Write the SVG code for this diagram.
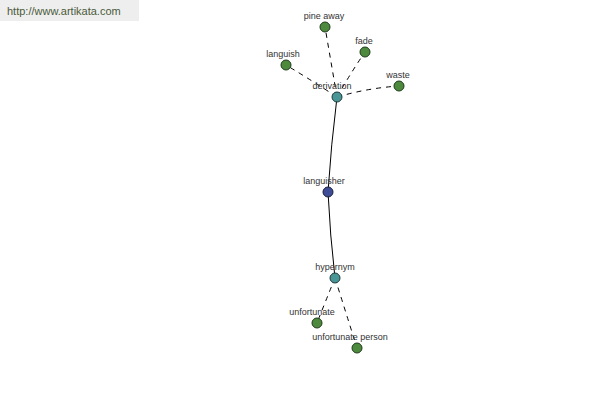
<svg xmlns="http://www.w3.org/2000/svg" width="600" height="400" viewBox="0 0 600 400">
<style>
.lbl{font-family:"Liberation Sans",Arial,sans-serif;font-size:9px;fill:#333;text-anchor:middle}
.leaf{fill:#4e8a3e;stroke:#1f3a1a;stroke-width:1}
.mid{fill:#4a9696;stroke:#1f3a3a;stroke-width:1}
.root{fill:#3f4d96;stroke:#1a1f3a;stroke-width:1}
.solid{fill:none;stroke:#000;stroke-width:1}
.dash{fill:none;stroke:#000;stroke-width:1;stroke-dasharray:5,5}
</style>
<rect x="0" y="0" width="139" height="21" fill="#eeeeee"/>
<text x="7" y="15" font-family="'Liberation Sans',Arial,sans-serif" font-size="11" fill="#4a5a3a">http://www.artikata.com</text>
<g id="connectors">
<path class="solid" d="M337 97 Q331 145 328 192"/>
<path class="solid" d="M328 192 Q330 235 335 278"/>
<path class="dash" d="M337 97 Q331 62 325 27"/>
<path class="dash" d="M337 97 Q350 74 365 52"/>
<path class="dash" d="M337 97 Q311 80 286 65"/>
<path class="dash" d="M337 97 Q368 88 399 86"/>
<path class="dash" d="M335 278 Q326 300 317 323"/>
<path class="dash" d="M335 278 Q346 313 357 348"/>
</g>
<g id="pine-away"><circle class="leaf" cx="325" cy="27" r="5"/><text class="lbl" x="324" y="19">pine away</text></g>
<g id="fade"><circle class="leaf" cx="365" cy="52" r="5"/><text class="lbl" x="364" y="44">fade</text></g>
<g id="languish"><circle class="leaf" cx="286" cy="65" r="5"/><text class="lbl" x="283" y="57">languish</text></g>
<g id="waste"><circle class="leaf" cx="399" cy="86" r="5"/><text class="lbl" x="398" y="78">waste</text></g>
<g id="derivation"><circle class="mid" cx="337" cy="97" r="5"/><text class="lbl" x="332" y="89">derivation</text></g>
<g id="languisher"><circle class="root" cx="328" cy="192" r="5"/><text class="lbl" x="324" y="184">languisher</text></g>
<g id="hypernym"><circle class="mid" cx="335" cy="278" r="5"/><text class="lbl" x="335" y="270">hypernym</text></g>
<g id="unfortunate"><circle class="leaf" cx="317" cy="323" r="5"/><text class="lbl" x="312" y="315">unfortunate</text></g>
<g id="unfortunate-person"><circle class="leaf" cx="357" cy="348" r="5"/><text class="lbl" x="350" y="340">unfortunate person</text></g>
</svg>
